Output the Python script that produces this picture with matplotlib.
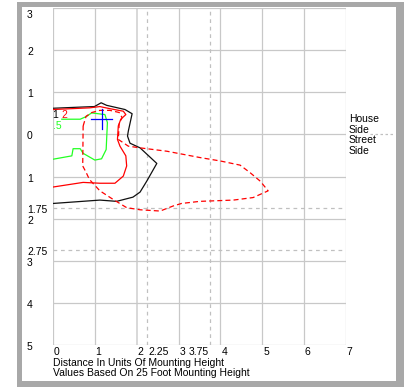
import matplotlib
matplotlib.use("Agg")
import matplotlib.pyplot as plt
from matplotlib.patches import Rectangle

plt.rcParams['font.family'] = ['Liberation Sans', 'DejaVu Sans']

# isofootcandle contours (x = distance, y = + house side / - street side)
black_x = [0.0, 0.72, 0.99, 1.15, 1.28, 1.72, 1.89, 1.80, 1.78, 1.84, 2.08, 2.48, 2.24, 2.08, 1.91, 1.52, 1.12, 0.0]
black_y = [0.62, 0.65, 0.66, 0.75, 0.69, 0.59, 0.49, 0.08, -0.04, -0.21, -0.32, -0.69, -1.11, -1.37, -1.49, -1.59, -1.56, -1.64]

red_x = [0.0, 0.88, 1.12, 1.36, 1.68, 1.74, 1.62, 1.56, 1.54, 1.60, 1.74, 1.76, 1.68, 1.48, 1.12, 0.72, 0.0]
red_y = [0.59, 0.63, 0.66, 0.61, 0.55, 0.47, 0.36, 0.20, -0.12, -0.28, -0.51, -0.75, -0.99, -1.16, -1.16, -1.14, -1.25]

green_x = [0.21, 0.65, 0.81, 0.92, 1.24, 1.30, 1.27, 1.16, 1.00, 0.72, 0.65, 0.48, 0.45, 0.0]
green_y = [0.36, 0.36, 0.43, 0.51, 0.47, 0.28, -0.36, -0.58, -0.61, -0.45, -0.34, -0.34, -0.51, -0.59]

dash_x = [0.72, 0.79, 0.93, 1.12, 1.36, 1.58, 1.65, 1.58, 1.56, 1.80, 2.08, 2.72, 3.51, 3.99, 4.47, 4.71, 4.95,
          5.14, 4.78, 4.31, 3.51, 3.07, 2.87, 2.56, 2.08, 1.76, 1.43, 1.12, 0.87, 0.79, 0.71, 0.72]
dash_y = [0.20, 0.43, 0.52, 0.57, 0.57, 0.52, 0.40, 0.24, -0.12, -0.28, -0.32, -0.40, -0.55, -0.63, -0.73, -0.91, -1.11,
          -1.34, -1.50, -1.56, -1.59, -1.64, -1.70, -1.82, -1.79, -1.74, -1.54, -1.34, -1.07, -0.90, -0.75, 0.20]

# luminaire position
lum_x, lum_y = 1.16, 0.36

x_ticks = [0, 1, 2, 2.25, 3, 3.75, 4, 5, 6, 7]
x_labels = ['0', '1', '2', '2.25', '3', '3.75', '4', '5', '6', '7']
y_ticks = [3, 2, 1, 0, -1, -1.75, -2, -2.75, -3, -4, -5]
y_labels = ['3', '2', '1', '0', '1', '1.75', '2', '2.75', '3', '4', '5']

W, H = 404, 387
fig = plt.figure(figsize=(W / 100, H / 100), dpi=100)

# gray frame
frame = fig.add_axes([0, 0, 1, 1])
frame.set_xlim(0, W)
frame.set_ylim(H, 0)
frame.axis('off')
frame.add_patch(Rectangle((17, 2), W - 17, H - 2, facecolor='#a8a8a8', edgecolor='none'))
frame.add_patch(Rectangle((22, 7), 374, 374, facecolor='white', edgecolor='none'))

ax = fig.add_axes([53 / W, (H - 345) / H, (346 - 53) / W, (345 - 8) / H])
ax.set_xlim(0, 7)
ax.set_ylim(-5, 3)
ax.patch.set_alpha(0)
for s in ax.spines.values():
    s.set_visible(False)
ax.set_xticks([])
ax.set_yticks([])

grid = '#c8c8c8'
for v in range(0, 8):
    if v == 2:
        ax.axvline(v, color='#d8d8d8', lw=1.4, zorder=1)
    else:
        ax.axvline(v, color=grid, lw=0.9, zorder=1)
for v in range(-5, 4):
    ax.axhline(v, color=grid, lw=0.9, zorder=1)
for v in [2.25, 3.75]:
    ax.axvline(v, color='#c0c0c0', lw=0.9, ls=(0, (3, 3)), zorder=1)
for v in [-1.75, -2.75]:
    ax.axhline(v, color='#c0c0c0', lw=0.9, ls=(0, (3, 3)), zorder=1)
ax.plot([7.57, 8.17], [0, 0], color='#c0c0c0', lw=0.9, ls=(0, (2, 2)), clip_on=False)

ax.plot(black_x, black_y, color='#101010', lw=0.9, zorder=3)
ax.plot(red_x, red_y, color='#ff0000', lw=0.9, zorder=3)
ax.plot(green_x, green_y, color='#22ff22', lw=0.9, zorder=3)
ax.plot(dash_x, dash_y, color='#ff0000', lw=0.9, ls=(0, (4, 2.5)), zorder=3)

ax.plot([lum_x - 0.25, lum_x + 0.25], [lum_y, lum_y], color='#0000ff', lw=0.9, zorder=4)
ax.plot([lum_x, lum_x], [lum_y - 0.24, lum_y + 0.24], color='#0000ff', lw=0.9, zorder=4)

fs = 7.5
ax.text(0.05, 0.45, '1', color='black', fontsize=fs, ha='center', va='center', zorder=5)
ax.text(0.27, 0.45, '2', color='#ff0000', fontsize=fs, ha='center', va='center', zorder=5)
ax.text(0.1, 0.21, '.5', color='#22ff22', fontsize=fs, ha='center', va='center', zorder=5)

for v, lab in zip(y_ticks, y_labels):
    yy = 2.83 if v == 3 else v - 0.05
    ax.text(-0.62, yy, lab, fontsize=fs, ha='left', va='center', clip_on=False)
for v, lab in zip(x_ticks, x_labels):
    if lab == '3.75':
        ax.text(v - 0.03, -5.17, lab, fontsize=fs, ha='right', va='center', clip_on=False)
    else:
        ax.text(v + 0.02, -5.17, lab, fontsize=fs, ha='left', va='center', clip_on=False)

ax.text(0, -5.43, 'Distance In Units Of Mounting Height', fontsize=fs, ha='left', va='center', clip_on=False)
ax.text(0, -5.66, 'Values Based On 25 Foot Mounting Height', fontsize=fs, ha='left', va='center', clip_on=False)

for yy, lab in zip([0.36, 0.10, -0.14, -0.39], ['House', 'Side', 'Street', 'Side']):
    ax.text(7.07, yy, lab, fontsize=fs, ha='left', va='center', clip_on=False)

fig.savefig('out.png', dpi=100)
